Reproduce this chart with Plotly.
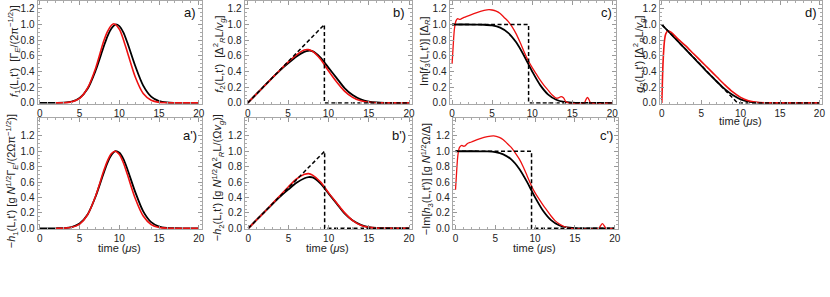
import plotly.graph_objects as go

W, H = 830, 297

# ---------------- data ----------------
t_ticks = [0, 5, 10, 15, 20]
y_ticks = [0.0, 0.2, 0.4, 0.6, 0.8, 1.0, 1.2]
y_ticklabels = ["0.0", "0.2", "0.4", "0.6", "0.8", "1.0", "1.2"]

# panel a / a'
a_t_black = [0, 1, 2, 3, 4, 5, 6, 7, 8, 8.5, 9, 9.5, 10, 10.5, 11, 12, 13, 14, 15, 16, 17, 18, 20]
a_black = [0, 0, 0.0005, 0.003, 0.016, 0.062, 0.18, 0.41, 0.71, 0.85, 0.95, 1.0, 0.98, 0.9, 0.77,
           0.47, 0.22, 0.08, 0.022, 0.005, 0.001, 0, 0]
a_t_red = [2, 3, 4, 5, 6, 7, 8, 8.5, 9, 9.3, 10, 10.5, 11, 12, 13, 14, 15, 16, 17, 20]
a_red = [0, 0.001, 0.013, 0.058, 0.19, 0.44, 0.78, 0.91, 0.99, 1.01, 0.94, 0.81, 0.65, 0.33, 0.12,
         0.034, 0.007, 0.001, 0, 0]
ap_t_red = [2, 3, 4, 5, 6, 7, 8, 8.5, 9, 9.45, 10, 10.5, 11, 12, 13, 14, 15, 16, 17, 20]
ap_red = [0, 0.002, 0.013, 0.055, 0.176, 0.416, 0.736, 0.876, 0.97, 1.0, 0.957, 0.85, 0.70, 0.387,
          0.159, 0.049, 0.011, 0.002, 0, 0]

# panel b / b'
b_t = [0, 1, 2, 3, 4, 5, 6, 7, 7.5, 8, 9, 10, 11, 12, 13, 14, 15, 16, 17, 20]
b_black = [0, 0.105, 0.21, 0.315, 0.415, 0.505, 0.59, 0.65, 0.665, 0.66, 0.58, 0.45, 0.32, 0.19,
           0.1, 0.045, 0.017, 0.005, 0.001, 0]
b_red = [0, 0.105, 0.21, 0.315, 0.42, 0.52, 0.61, 0.675, 0.68, 0.66, 0.56, 0.41, 0.27, 0.15, 0.07,
         0.027, 0.008, 0.002, 0, 0]
bp_red = [0, 0.105, 0.21, 0.32, 0.43, 0.54, 0.64, 0.70, 0.71, 0.69, 0.6, 0.46, 0.33, 0.2, 0.1,
          0.04, 0.012, 0.003, 0, 0]
b_dash_t = [0, 9.5, 9.5, 20]
b_dash = [0, 1.0, 0, 0]

# panel c / c'
c_t_black = [0, 1, 2, 3, 4, 5, 6, 7, 8, 9, 9.5, 10, 11, 12, 13, 14, 15, 16, 20]
c_black = [1, 1, 1, 0.999, 0.997, 0.988, 0.96, 0.894, 0.773, 0.599, 0.5, 0.401, 0.227, 0.106,
           0.04, 0.012, 0.003, 0, 0]
c_t_red = [0, 0.15, 0.3, 0.5, 0.7, 0.9, 1.1, 1.5, 2, 3, 4, 4.6, 5, 5.5, 6, 6.5, 7, 7.5, 8, 8.5, 9,
           9.5, 10, 10.5, 11, 11.5, 12, 12.5, 13, 13.3, 13.6, 13.9, 14.2, 14.5, 16.5, 16.7, 16.9,
           17.1, 17.3, 20]
c_red = [0.5, 0.75, 0.95, 1.05, 1.075, 1.065, 1.07, 1.09, 1.11, 1.15, 1.18, 1.19, 1.185, 1.17,
         1.14, 1.09, 1.04, 0.97, 0.88, 0.77, 0.65, 0.54, 0.45, 0.37, 0.29, 0.22, 0.16, 0.1, 0.06,
         0.065, 0.08, 0.065, 0.015, 0, 0, 0.04, 0.07, 0.04, 0, 0]
cp_t_red = [0, 0.15, 0.3, 0.5, 0.8, 1.0, 1.2, 1.5, 2, 3, 4, 4.8, 5.5, 6, 6.5, 7, 7.5, 8, 8.5, 9,
            9.5, 10, 10.5, 11, 11.5, 12, 12.5, 13, 13.5, 14, 14.5, 18, 18.2, 18.45, 18.7, 18.9,
            20]
cp_red = [0.5, 0.75, 0.95, 1.05, 1.075, 1.065, 1.07, 1.1, 1.12, 1.16, 1.19, 1.2, 1.18, 1.15, 1.1,
          1.05, 0.98, 0.9, 0.8, 0.68, 0.56, 0.46, 0.38, 0.3, 0.23, 0.16, 0.1, 0.06, 0.03, 0.012,
          0, 0, 0.03, 0.06, 0.03, 0, 0]
c_dash_t = [0, 9.55, 9.55, 20]
c_dash = [1, 1, 0, 0]

# panel d
d_t_black = [0, 1, 2, 3, 4, 5, 6, 7, 8, 9, 10, 11, 12, 13, 20]
d_black = [1.0, 0.895, 0.79, 0.685, 0.58, 0.475, 0.37, 0.27, 0.175, 0.1, 0.045, 0.015, 0.004, 0, 0]
d_t_red = [0, 0.1, 0.2, 0.35, 0.5, 0.8, 1.2, 2, 3, 4, 5, 6, 7, 8, 9, 10, 11, 12, 13, 14, 20]
d_red = [0, 0.35, 0.6, 0.8, 0.88, 0.92, 0.9, 0.82, 0.73, 0.63, 0.53, 0.43, 0.33, 0.23, 0.14, 0.07,
         0.028, 0.009, 0.002, 0, 0]
d_dash_t = [0, 9.6, 20]
d_dash = [1.0, 0, 0]

# ---------------- layout helpers ----------------
FONT = "Liberation Sans, Arial, sans-serif"
RED = "#ee1111"
BLACK = "#000000"

def px_x(p):
    return p / W

def px_y(p):
    return 1 - p / H

TOP = (0, 104.8, [-0.01, 1.30])
BOT = (119.5, 232.8, [-0.01, 1.43])
panels = [
    ("a", 37.7, 203.0, [-0.3, 20.4], TOP),
    ("b", 245.7, 413.5, [-0.4, 20.3], TOP),
    ("c", 451.7, 619.3, [-0.32, 20.5], TOP),
    ("d", 662.7, 826.0, [-0.29, 20.33], TOP),
    ("ap", 37.7, 203.0, [-0.3, 20.4], BOT),
    ("bp", 246.2, 413.5, [-0.4, 20.3], BOT),
    ("cp", 455.0, 620.5, [-0.34, 20.35], BOT),
]

fig = go.Figure()
layout = dict(width=W, height=H, autosize=False, margin=dict(l=0, r=0, t=0, b=0, pad=0),
              paper_bgcolor="white", plot_bgcolor="white", showlegend=False,
              font=dict(family=FONT, size=11, color="#222"))
axis_ids = {}
for i, (name, x0, x1, xr, (yt, yb, yr)) in enumerate(panels, start=1):
    xs = "" if i == 1 else str(i)
    axis_ids[name] = ("x" + xs, "y" + xs)
    common = dict(showline=True, linecolor="#a8a8a8", linewidth=1, mirror="ticks",
                  ticks="inside", ticklen=4, tickwidth=1, tickcolor="#999",
                  showgrid=False, zeroline=False,
                  tickfont=dict(family=FONT, size=10, color="#222"))
    layout["xaxis" + xs] = dict(common, domain=[px_x(x0), px_x(x1)], range=xr,
                                anchor="y" + xs, tickvals=t_ticks,
                                minor=dict(ticks="inside", ticklen=2, dtick=1, tick0=0,
                                           tickcolor="#aaa", showgrid=False))
    layout["yaxis" + xs] = dict(common, domain=[px_y(yb), px_y(yt)], range=yr,
                                anchor="x" + xs, tickvals=y_ticks, ticktext=y_ticklabels,
                                minor=dict(ticks="inside", ticklen=2, dtick=0.05, tick0=0,
                                           tickcolor="#aaa", showgrid=False))

def line(name, t, y, color, width=1.6, dash=None, spline=True):
    xa, ya = axis_ids[name]
    fig.add_trace(go.Scatter(x=t, y=y, mode="lines", xaxis=xa, yaxis=ya,
                             line=dict(color=color, width=width, dash=dash,
                                       shape="spline" if spline else "linear",
                                       smoothing=0.8),
                             hoverinfo="skip"))

DASH = "4px,2.5px"
line("a", a_t_black, a_black, BLACK, 1.8)
line("a", a_t_red, a_red, RED)
line("ap", a_t_black, a_black, BLACK, 1.8)
line("ap", ap_t_red, ap_red, RED)
line("b", b_t, b_black, BLACK, 1.8)
line("b", b_t, b_red, RED)
line("b", b_dash_t, b_dash, BLACK, 1.5, DASH, False)
line("bp", b_t, b_black, BLACK, 1.8)
line("bp", b_t, bp_red, RED)
line("bp", b_dash_t, b_dash, BLACK, 1.5, DASH, False)
line("c", c_t_black, c_black, BLACK, 1.8)
line("c", c_t_red, c_red, RED, 1.3)
line("c", c_dash_t, c_dash, BLACK, 1.5, DASH, False)
line("cp", c_t_black, c_black, BLACK, 1.8)
line("cp", cp_t_red, cp_red, RED, 1.3)
line("cp", c_dash_t, c_dash, BLACK, 1.5, DASH, False)
line("d", d_t_black, d_black, BLACK, 1.8)
line("d", d_t_red, d_red, RED)
line("d", d_dash_t, d_dash, BLACK, 1.5, DASH, False)

ann = []
letters = [("a)", 199, 12), ("b)", 409, 12), ("c)", 617, 12), ("d)", 823, 12),
           ("a')", 200, 137), ("b')", 410, 137), ("c')", 618, 137)]
for txt, x, y in letters:
    ann.append(dict(text=txt, x=px_x(x), y=px_y(y), xref="paper", yref="paper",
                    xanchor="right", yanchor="middle", showarrow=False,
                    font=dict(family=FONT, size=13, color="#111")))

ytitles = [
    ("<i>f</i><sub>1</sub>(L,t')  [Γ<sub><i>E</i></sub>/(2π<sup>−1/2</sup>)]", 14, 51),
    ("<i>f</i><sub>2</sub>(L,t')  [Δ<sup>2</sup><sub><i>R</i></sub>L/<i>v</i><sub><i>g</i></sub>]", 220, 54),
    ("Im[<i>f</i><sub>3</sub>(L,t')] [Δ<sub><i>R</i></sub>]", 427, 51),
    ("<i>g</i><sub>2</sub>(L,t') [Δ<sup>2</sup><sub><i>R</i></sub>L/<i>v</i><sub><i>g</i></sub>]", 642, 54),
    ("−<i>h</i><sub>1</sub>(L,t') [g <i>N</i><sup>1/2</sup>Γ<sub><i>E</i></sub>/(2Ωπ<sup>−1/2</sup>)]", 12, 184),
    ("−<i>h</i><sub>2</sub>(L,t') [g <i>N</i><sup>1/2</sup>Δ<sup>2</sup><sub><i>R</i></sub>L/(Ω<i>v</i><sub><i>g</i></sub>)]", 219, 180),
    ("−Im[<i>h</i><sub>3</sub>(L,t')] [g <i>N</i><sup>1/2</sup>Ω/Δ]", 429, 182),
]
for txt, x, y in ytitles:
    ann.append(dict(text=txt, x=px_x(x), y=px_y(y), xref="paper", yref="paper",
                    xanchor="center", yanchor="middle", textangle=-90, showarrow=False,
                    font=dict(family=FONT, size=11, color="#222")))

xtitles = [(120, 252.5), (329, 252.5), (537, 252.5), (744, 122.5)]
for x, y in xtitles:
    ann.append(dict(text="time (<i>μ</i>s)", x=px_x(x), y=px_y(y), xref="paper",
                    yref="paper", xanchor="center", yanchor="middle", showarrow=False,
                    font=dict(family=FONT, size=11, color="#222")))

layout["annotations"] = ann
fig.update_layout(**layout)
fig.write_html("out.html", config={"displayModeBar": False, "staticPlot": True},
               post_script="document.body.style.margin='0px';document.body.style.padding='0px';")
